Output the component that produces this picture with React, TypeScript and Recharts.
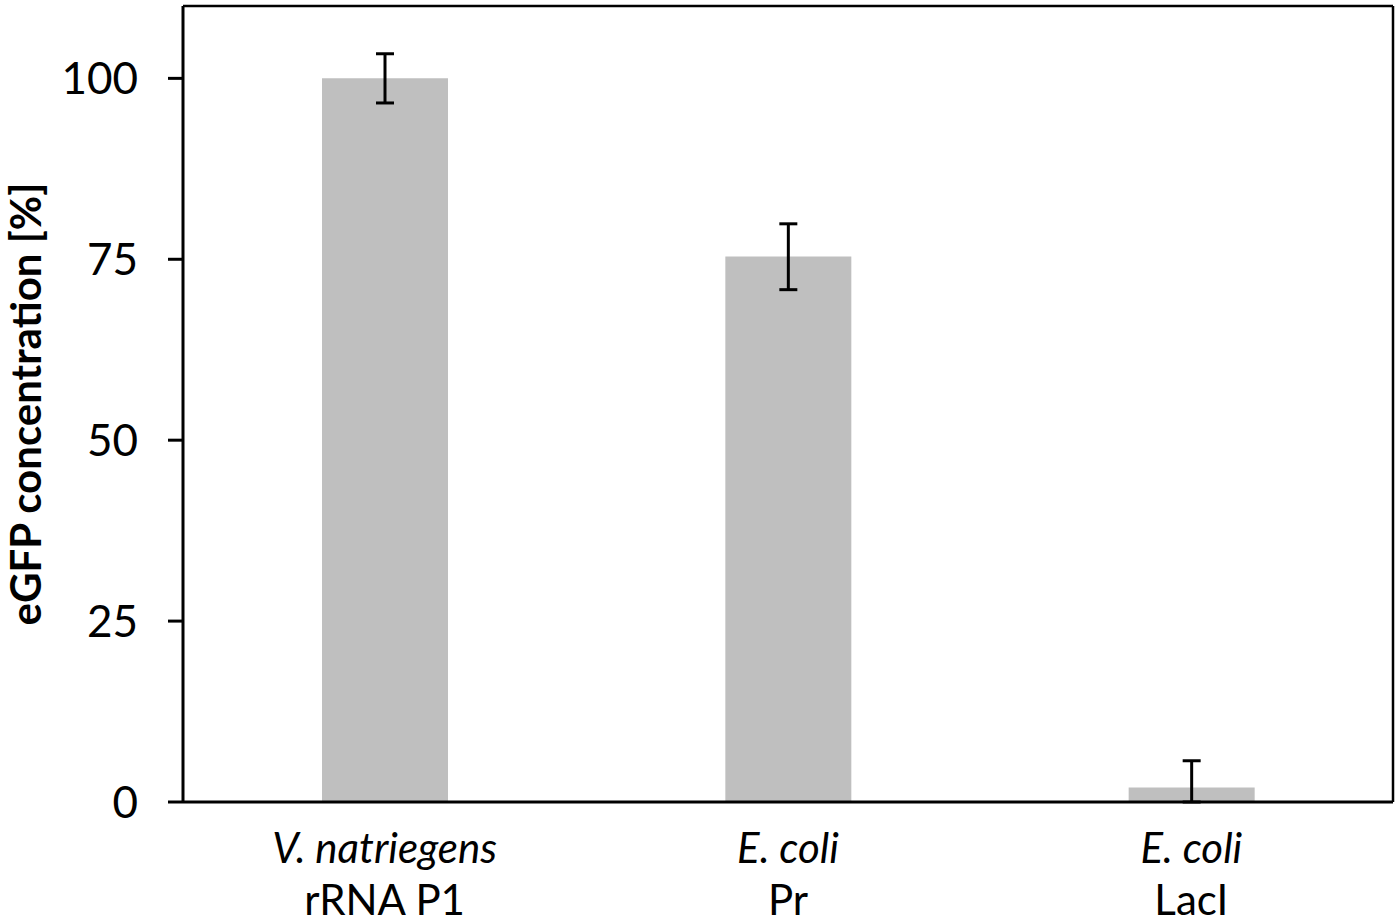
import { Bar, BarChart, ErrorBar, XAxis, YAxis } from 'recharts'

const species = ['V. natriegens', 'E. coli', 'E. coli']
const promoters = ['rRNA P1', 'Pr', 'LacI']
const concentration = [100, 75.4, 2.0]
const errorLow = [3.4, 4.6, 2.0]
const errorHigh = [3.4, 4.5, 3.7]
const yTicks = [0, 25, 50, 75, 100]

const FONT = 'Lato, "Noto Sans", sans-serif'

const data = species.map((name, i) => ({
  key: `${name}|${promoters[i]}`,
  species: name,
  promoter: promoters[i],
  value: concentration[i],
  err: [errorLow[i], errorHigh[i]],
}))

function CategoryTick({ x, y, payload }: any) {
  const [top, bottom] = String(payload.value).split('|')
  return (
    <g>
      <text x={x} y={y + 53} textAnchor="middle" fontFamily={FONT} fontSize={42} fontStyle="italic" fill="#000">
        {top}
      </text>
      <text x={x} y={y + 105} textAnchor="middle" fontFamily={FONT} fontSize={42} fill="#000">
        {bottom}
      </text>
    </g>
  )
}

function AxisTitle({ viewBox }: any) {
  const cy = viewBox.y + viewBox.height / 2
  return (
    <text
      x={25}
      y={cy}
      transform={`rotate(-90, 25, ${cy})`}
      textAnchor="middle"
      dominantBaseline="central"
      fontFamily={FONT}
      fontWeight="bold"
      fontSize={42}
      fill="#000"
    >
      eGFP concentration [%]
    </text>
  )
}

export default function App() {
  return (
    <div style={{ position: 'absolute', left: 0, top: 0, background: '#fff' }}>
      <BarChart width={1400} height={924} data={data} margin={{ top: 5, right: 6, bottom: 0, left: 0 }}>
        <XAxis
          dataKey="key"
          height={122}
          tickLine={false}
          axisLine={{ stroke: '#000', strokeWidth: 3 }}
          tick={<CategoryTick />}
          interval={0}
        />
        {/* top and right frame lines */}
        <XAxis
          xAxisId="top"
          dataKey="key"
          orientation="top"
          height={1}
          tick={false}
          tickLine={false}
          axisLine={{ stroke: '#000', strokeWidth: 2.5 }}
        />
        <YAxis
          width={183}
          domain={[0, 110]}
          ticks={yTicks}
          tickSize={15}
          tickMargin={30}
          tickLine={{ stroke: '#000', strokeWidth: 3 }}
          axisLine={{ stroke: '#000', strokeWidth: 3 }}
          tick={{ fill: '#000', fontFamily: FONT, fontSize: 44 }}
          label={<AxisTitle />}
          allowDataOverflow
        />
        <YAxis
          yAxisId="right"
          orientation="right"
          domain={[0, 110]}
          width={1}
          tick={false}
          tickLine={false}
          axisLine={{ stroke: '#000', strokeWidth: 2.5 }}
        />
        <Bar dataKey="value" fill="#bfbfbf" barSize={126} isAnimationActive={false}>
          <ErrorBar dataKey="err" direction="y" width={9} stroke="#000" strokeWidth={3} isAnimationActive={false} />
        </Bar>
      </BarChart>
    </div>
  )
}
